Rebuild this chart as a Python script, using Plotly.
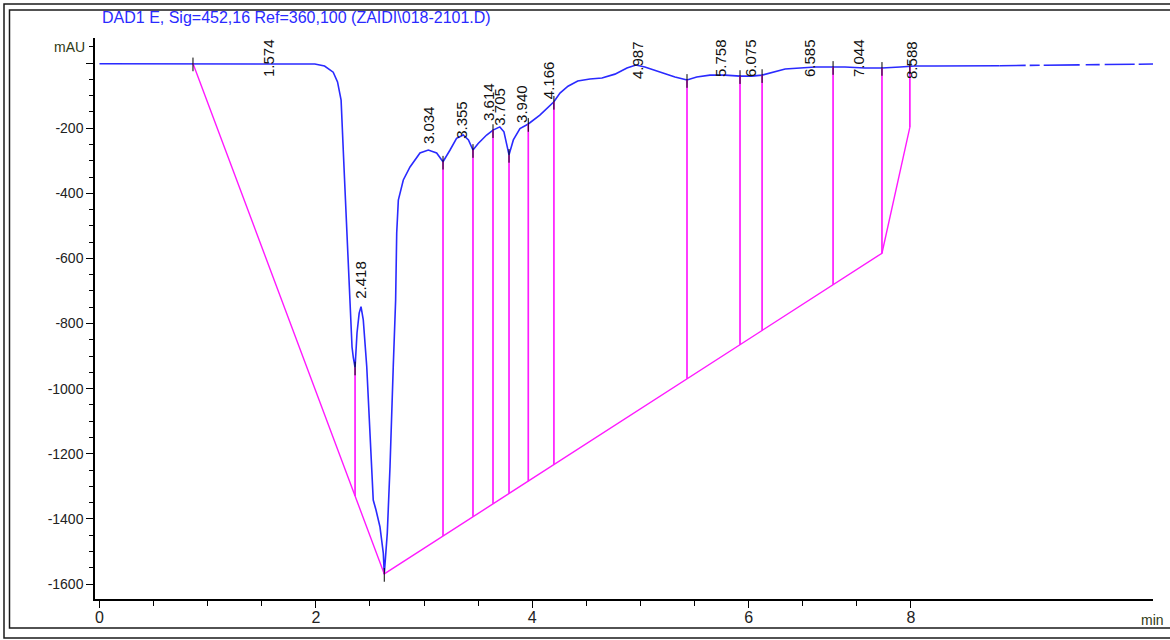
import numpy as np
import plotly.graph_objects as go

# ---------------- data ----------------
time_min = [0.0, 0.47, 0.93, 1.39, 1.85, 1.99, 2.08, 2.16, 2.20, 2.233,
            2.26, 2.288, 2.315, 2.334, 2.346, 2.362, 2.38, 2.40, 2.417, 2.438,
            2.47, 2.494, 2.516, 2.53, 2.555, 2.592, 2.623, 2.632, 2.66, 2.685,
            2.715, 2.737, 2.747, 2.762, 2.808, 2.87, 2.962, 3.039, 3.116, 3.175,
            3.24, 3.30, 3.362, 3.41, 3.452, 3.50, 3.578, 3.637, 3.70, 3.738,
            3.785, 3.825, 3.886, 3.963, 4.07, 4.20, 4.256, 4.33, 4.42, 4.533,
            4.644, 4.764, 4.875, 4.958, 5.04, 5.18, 5.319, 5.43, 5.52, 5.642,
            5.78, 5.92, 6.03, 6.124, 6.217, 6.337, 6.476, 6.615, 6.78, 6.89,
            7.075, 7.232, 7.40, 7.537, 7.72, 8.32]
signal_mau = [-2, -2, -1, -1, -1, -3, -9, -28, -58, -114,
              -321, -528, -734, -872, -905, -935, -829, -768, -748, -789,
              -932, -1086, -1239, -1342, -1372, -1424, -1505, -1569, -1443, -1240,
              -933, -728, -522, -421, -359, -319, -276, -267, -276, -303,
              -267, -231, -221, -236, -267, -247, -221, -206, -196, -211,
              -282, -236, -201, -187, -160, -119, -92, -71, -55, -49,
              -46, -34, -15, -6, -12, -28, -43, -52, -43, -37,
              -37, -40, -40, -37, -28, -18, -15, -12, -12, -12,
              -15, -15, -12, -9, -9, -8]
tail_time = [8.32, 8.97, 9.40, 9.737]
tail_mau = [-8, -6, -5, -3]

# integration baseline (magenta) and peak boundaries
baseline_time = [0.864, 2.632, 7.232, 7.49]
baseline_mau = [-1, -1569, -584, -197]
drop_time = [2.362, 3.175, 3.452, 3.637, 3.785, 3.963, 4.20, 5.43, 5.92,
             6.124, 6.78, 7.232, 7.49]
boundary_time = [0.864, 2.362, 2.632, 3.175, 3.452, 3.637, 3.785, 3.963,
                 4.20, 5.43, 5.92, 6.124, 6.78, 7.232, 7.49]

# peak retention-time labels
peak_labels = ["1.574", "2.418", "3.034", "3.355", "3.614", "3.705", "3.940",
               "4.166", "4.987", "5.758", "6.075", "6.585", "7.044", "8.588"]
peak_label_time = [1.557, 2.405, 3.036, 3.35, 3.59, 3.70, 3.905,
                   4.145, 4.968, 5.735, 6.012, 6.557, 7.01, 7.50]
peak_label_mau = [-46, -728, -252, -236, -181, -196, -187,
                  -114, -52, -46, -46, -46, -46, -52]

x_tick_vals = [0, 2, 4, 6, 7.5]
x_tick_text = ["0", "2", "4", "6", "8"]
x_minor_vals = [0.5, 1, 1.5, 2.5, 3, 3.5, 4.5, 5, 5.5, 6.5, 7]
y_tick_vals = [0, -200, -400, -600, -800, -1000, -1200, -1400, -1600]
y_tick_text = ["", "-200", "-400", "-600", "-800", "-1000", "-1200", "-1400", "-1600"]

title_text = "DAD1 E, Sig=452,16 Ref=360,100 (ZAIDI\\018-2101.D)"

# ---------------- layout geometry ----------------
W, H = 1170, 640
ML, MR, MT, MB = 95, 17, 38, 41
PW, PH = W - ML - MR, H - MT - MB


def px(xp):
    return (xp - ML) / PW


def py(yp):
    return (H - MB - yp) / PH


FONT = "Arial, Liberation Sans, sans-serif"
BLUE = "#2a2aff"
MAG = "#ff1aff"

fig = go.Figure()

# chromatogram
fig.add_trace(go.Scatter(x=time_min, y=signal_mau, mode="lines",
                         line=dict(color=BLUE, width=1.6), hoverinfo="skip"))
fig.add_trace(go.Scatter(x=tail_time, y=tail_mau, mode="lines",
                         line=dict(color=BLUE, width=1.6,
                                   dash="26px,4px,10px,4px,36px,6px,14px,5px,30px,4px"),
                         hoverinfo="skip", cliponaxis=False))

# baseline
fig.add_trace(go.Scatter(x=baseline_time, y=baseline_mau, mode="lines",
                         line=dict(color=MAG, width=1.4), hoverinfo="skip"))

# drop lines
dx, dy = [], []
for t in drop_time:
    top = float(np.interp(t, time_min, signal_mau))
    bot = float(np.interp(t, baseline_time, baseline_mau))
    dx += [t, t, None]
    dy += [top, bot, None]
fig.add_trace(go.Scatter(x=dx, y=dy, mode="lines",
                         line=dict(color=MAG, width=1.7), hoverinfo="skip"))

# black boundary ticks
bx, by = [], []
for t in boundary_time:
    v = float(np.interp(t, time_min, signal_mau))
    bx += [t, t, None]
    by += [v + 18, v - 24, None]
fig.add_trace(go.Scatter(x=bx, y=by, mode="lines",
                         line=dict(color="black", width=1), hoverinfo="skip"))

annotations = []
for lab, t, v in zip(peak_labels, peak_label_time, peak_label_mau):
    annotations.append(dict(x=t, y=v, xref="x", yref="y", text=lab,
                            textangle=-90, showarrow=False, xanchor="center",
                            yanchor="bottom", font=dict(family=FONT, size=15, color="#111"),
                            borderpad=0))

annotations += [
    dict(x=px(100), y=py(17), xref="paper", yref="paper", text=title_text,
         showarrow=False, xanchor="left", yanchor="middle",
         font=dict(family=FONT, size=16, color=BLUE)),
    dict(x=px(87), y=py(47), xref="paper", yref="paper", text="mAU",
         showarrow=False, xanchor="right", yanchor="middle",
         font=dict(family=FONT, size=14, color="#2f3a14")),
    dict(x=px(1166), y=py(620), xref="paper", yref="paper", text="min",
         showarrow=False, xanchor="right", yanchor="middle",
         font=dict(family=FONT, size=14, color="#2f3a14")),
]

shapes = [
    dict(type="rect", xref="paper", yref="paper", x0=px(4), x1=px(1200),
         y0=py(638), y1=py(4), line=dict(color="#1a1a1a", width=1.5)),
    dict(type="rect", xref="paper", yref="paper", x0=px(9.5), x1=px(1195),
         y0=py(628), y1=py(10), line=dict(color="#1a1a1a", width=1.5)),
]

fig.update_layout(
    width=W, height=H,
    margin=dict(l=ML, r=MR, t=MT, b=MB, pad=0),
    paper_bgcolor="white", plot_bgcolor="white",
    showlegend=False,
    annotations=annotations,
    shapes=shapes,
    font=dict(family=FONT),
)

fig.update_xaxes(
    range=[-0.0416, 9.737], showgrid=False, zeroline=False,
    showline=True, linecolor="black", linewidth=1.5, mirror=False,
    tickmode="array", tickvals=x_tick_vals, ticktext=x_tick_text,
    ticks="outside", ticklen=7, tickwidth=1.2, tickcolor="black",
    ticklabelstandoff=-4,
    tickfont=dict(family=FONT, size=16, color="#222"),
    minor=dict(tickmode="array", tickvals=x_minor_vals, ticks="outside",
               ticklen=5, tickwidth=1.2, tickcolor="black", showgrid=False),
)
fig.update_yaxes(
    range=[-1646, 77], showgrid=False, zeroline=False,
    showline=True, linecolor="black", linewidth=1.5, mirror=False,
    tickmode="array", tickvals=y_tick_vals, ticktext=y_tick_text,
    ticks="outside", ticklen=7, tickwidth=1.2, tickcolor="black",
    tickfont=dict(family=FONT, size=14, color="#222"),
    minor=dict(tickmode="linear", tick0=0, dtick=50, ticks="outside",
               ticklen=4, tickwidth=1.2, tickcolor="black", showgrid=False),
)

fig.write_html("out.html")
